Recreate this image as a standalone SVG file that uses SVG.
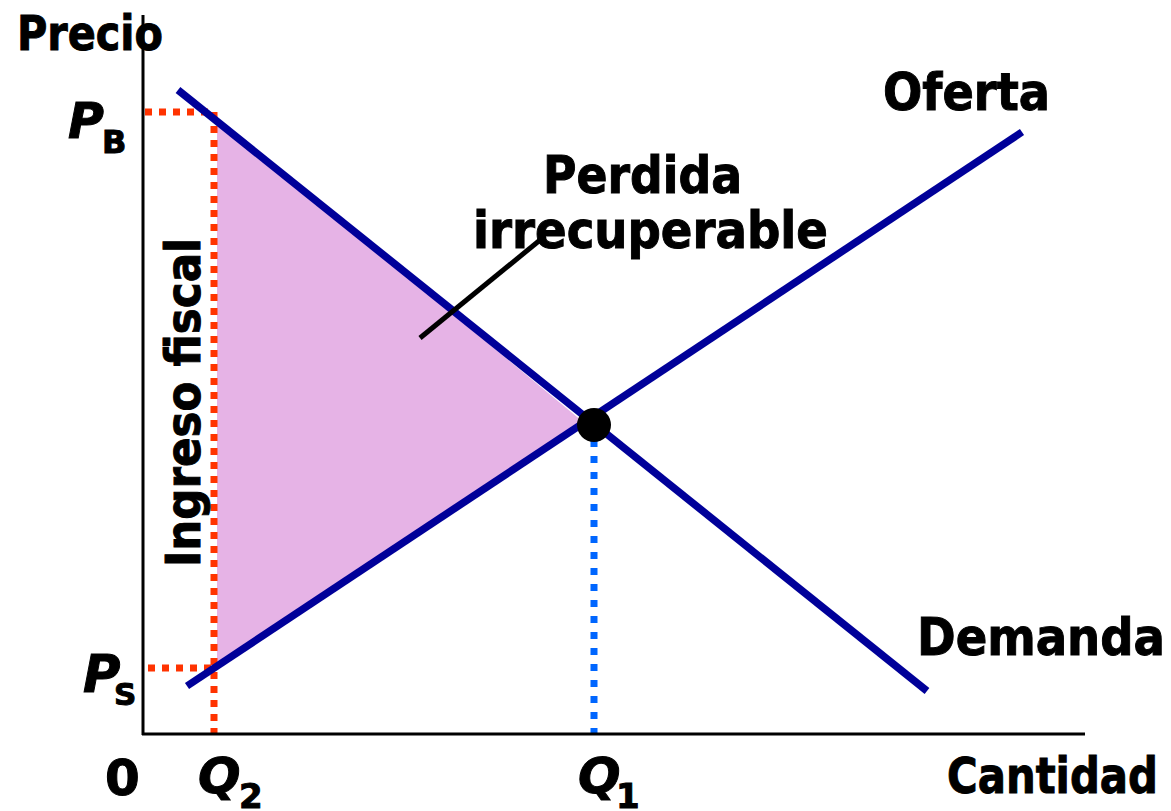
<svg xmlns="http://www.w3.org/2000/svg" width="1171" height="811" viewBox="0 0 1171 811">
<style>
.t{font-family:"DejaVu Sans","Liberation Sans",sans-serif;font-weight:bold;fill:#000;stroke:#000;stroke-width:1}
.it{font-family:"DejaVu Sans","Liberation Sans",sans-serif;font-weight:bold;font-style:italic;fill:#000;stroke:#000;stroke-width:1}
.curve{stroke:#000099;stroke-width:7.5;fill:none}
.red{stroke:#FF3300;stroke-width:7;stroke-dasharray:7 7;fill:none}
.blue{stroke:#0066FF;stroke-width:7;stroke-dasharray:7 9;fill:none}
</style>
<rect width="1171" height="811" fill="#fff"/>
<g id="deadweight-area">
<polygon points="217,119 217,664 582,421" fill="#E6B3E6"/>
</g>
<g id="guides">
<line class="red" x1="145" y1="112" x2="214" y2="112"/>
<line class="red" x1="214" y1="112" x2="214" y2="734"/>
<line class="red" x1="148" y1="668" x2="214" y2="668"/>
<line class="blue" x1="594" y1="440" x2="594" y2="734"/>
</g>
<g id="axes">
<line x1="143" y1="15" x2="143" y2="735" stroke="#000" stroke-width="3"/>
<line x1="142" y1="734" x2="1085" y2="734" stroke="#000" stroke-width="3"/>
</g>
<g id="connectors">
<line id="demand" class="curve" x1="178" y1="90" x2="927" y2="691"/>
<line id="supply" class="curve" x1="187" y1="686" x2="1022" y2="132"/>
<line id="pointer" x1="420" y1="338" x2="545" y2="236" stroke="#000" stroke-width="5"/>
</g>
<g id="equilibrium">
<circle cx="594" cy="425" r="17" fill="#000"/>
</g>
<g id="labels">
<text class="t" x="17" y="50" font-size="48" textLength="146" lengthAdjust="spacingAndGlyphs">Precio</text>
<text class="t" x="883" y="110" font-size="51" textLength="167" lengthAdjust="spacingAndGlyphs">Oferta</text>
<text class="t" x="543" y="193" font-size="51" textLength="199" lengthAdjust="spacingAndGlyphs">Perdida</text>
<text class="t" x="473" y="248" font-size="51" textLength="355" lengthAdjust="spacingAndGlyphs">irrecuperable</text>
<text class="t" x="917" y="655" font-size="51" textLength="248" lengthAdjust="spacingAndGlyphs">Demanda</text>
<text class="t" x="947" y="793" font-size="50" textLength="211" lengthAdjust="spacingAndGlyphs">Cantidad</text>
<text class="t" transform="translate(200,567) rotate(-90)" font-size="48" textLength="329" lengthAdjust="spacingAndGlyphs">Ingreso fiscal</text>
<text class="t" x="105" y="795" font-size="50">0</text>
<text class="it" x="68" y="138" font-size="49">P</text>
<text class="t" x="102" y="153" font-size="32">B</text>
<text class="it" x="83" y="692" font-size="51">P</text>
<text class="t" x="114" y="705" font-size="31">S</text>
<text class="it" x="198" y="793" font-size="50">Q</text>
<text class="t" x="239" y="808" font-size="34">2</text>
<text class="it" x="578" y="793" font-size="50">Q</text>
<text class="t" x="616" y="808" font-size="34">1</text>
</g>
</svg>
